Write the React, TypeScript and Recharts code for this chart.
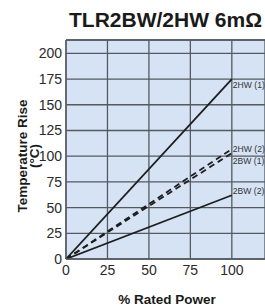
import React from 'react';
import { LineChart, Line, XAxis, YAxis, CartesianGrid, ReferenceLine, Label } from 'recharts';

const ratedPower = [0, 100];
const hw1Rise = [0, 175];
const hw2Rise = [0, 107];
const bw1Rise = [0, 103];
const bw2Rise = [0, 62];
const xTicks = [0, 25, 50, 75, 100];
const yTicks = [0, 25, 50, 75, 100, 125, 150, 175, 200];
const seriesNames = ['2HW (1)', '2HW (2)', '2BW (1)', '2BW (2)'];

const data = ratedPower.map((x, i) => ({
  x,
  hw1: hw1Rise[i],
  hw2: hw2Rise[i],
  bw1: bw1Rise[i],
  bw2: bw2Rise[i],
}));

const FONT = '"Liberation Sans", Arial, Helvetica, sans-serif';
const GRID = '#555a60';
const LINE = '#1e1e1e';

const endLabel = (name: string, dy: number) => (props: any) => {
  if (props.index !== data.length - 1) return null;
  return (
    <text
      x={props.x + 1}
      y={props.y + dy}
      fontSize={8.6}
      fontFamily={FONT}
      fill="#333"
      dominantBaseline="middle"
    >
      {name}
    </text>
  );
};

export default function App() {
  return (
    <div style={{ position: 'fixed', left: 0, top: 0, width: 265, height: 308, background: '#fff' }}>
      <div
        style={{
          position: 'absolute',
          left: 66,
          width: 199,
          top: 9,
          textAlign: 'center',
          fontFamily: FONT,
          fontWeight: 'bold',
          fontSize: 21,
          lineHeight: '21px',
          color: '#1a1a1a',
          whiteSpace: 'nowrap',
        }}
      >
        TLR2BW/2HW 6mΩ
      </div>
      <LineChart width={265} height={308} data={data} margin={{ top: 40, right: 0, bottom: 0, left: 0 }}>
        <CartesianGrid fill="#d5e3f5" stroke={GRID} strokeWidth={1.3} strokeOpacity={1} />
        <XAxis
          type="number"
          dataKey="x"
          domain={[0, 120]}
          ticks={xTicks}
          height={49}
          tickSize={0}
          tickMargin={6}
          axisLine={{ stroke: GRID, strokeWidth: 1.3 }}
          tick={{ fontSize: 14, fontFamily: FONT, fill: '#2a2a2a' }}
          interval={0}
        >
          <Label
            content={() => (
              <text x={167} y={304} textAnchor="middle" fontFamily={FONT} fontWeight="bold" fontSize={13.5} fill="#1a1a1a">
                % Rated Power
              </text>
            )}
          />
        </XAxis>
        <YAxis
          type="number"
          domain={[0, 213]}
          ticks={yTicks}
          width={66}
          tickSize={0}
          tickMargin={4}
          axisLine={{ stroke: GRID, strokeWidth: 1.3 }}
          tick={{ fontSize: 14, fontFamily: FONT, fill: '#2a2a2a' }}
          interval={0}
          allowDataOverflow
        >
          <Label
            content={() => (
              <g fontFamily={FONT} fontWeight="bold" fontSize={13.5} fill="#1a1a1a">
                <text x={27} y={156} textAnchor="middle" transform="rotate(-90 27 156)">
                  Temperature Rise
                </text>
                <text x={39} y={156} textAnchor="middle" transform="rotate(-90 39 156)">
                  (°C)
                </text>
              </g>
            )}
          />
        </YAxis>
        <ReferenceLine y={213} stroke={GRID} strokeWidth={1.3} ifOverflow="extendDomain" />
        <Line dataKey="hw1" stroke={LINE} strokeWidth={1.8} dot={false} isAnimationActive={false} label={endLabel(seriesNames[0], 7)} />
        <Line dataKey="hw2" stroke={LINE} strokeWidth={1.8} strokeDasharray="6 4" dot={false} isAnimationActive={false} label={endLabel(seriesNames[1], 1)} />
        <Line dataKey="bw1" stroke={LINE} strokeWidth={1.8} strokeDasharray="6 4" dot={false} isAnimationActive={false} label={endLabel(seriesNames[2], 9)} />
        <Line dataKey="bw2" stroke={LINE} strokeWidth={1.8} dot={false} isAnimationActive={false} label={endLabel(seriesNames[3], -4)} />
      </LineChart>
    </div>
  );
}
